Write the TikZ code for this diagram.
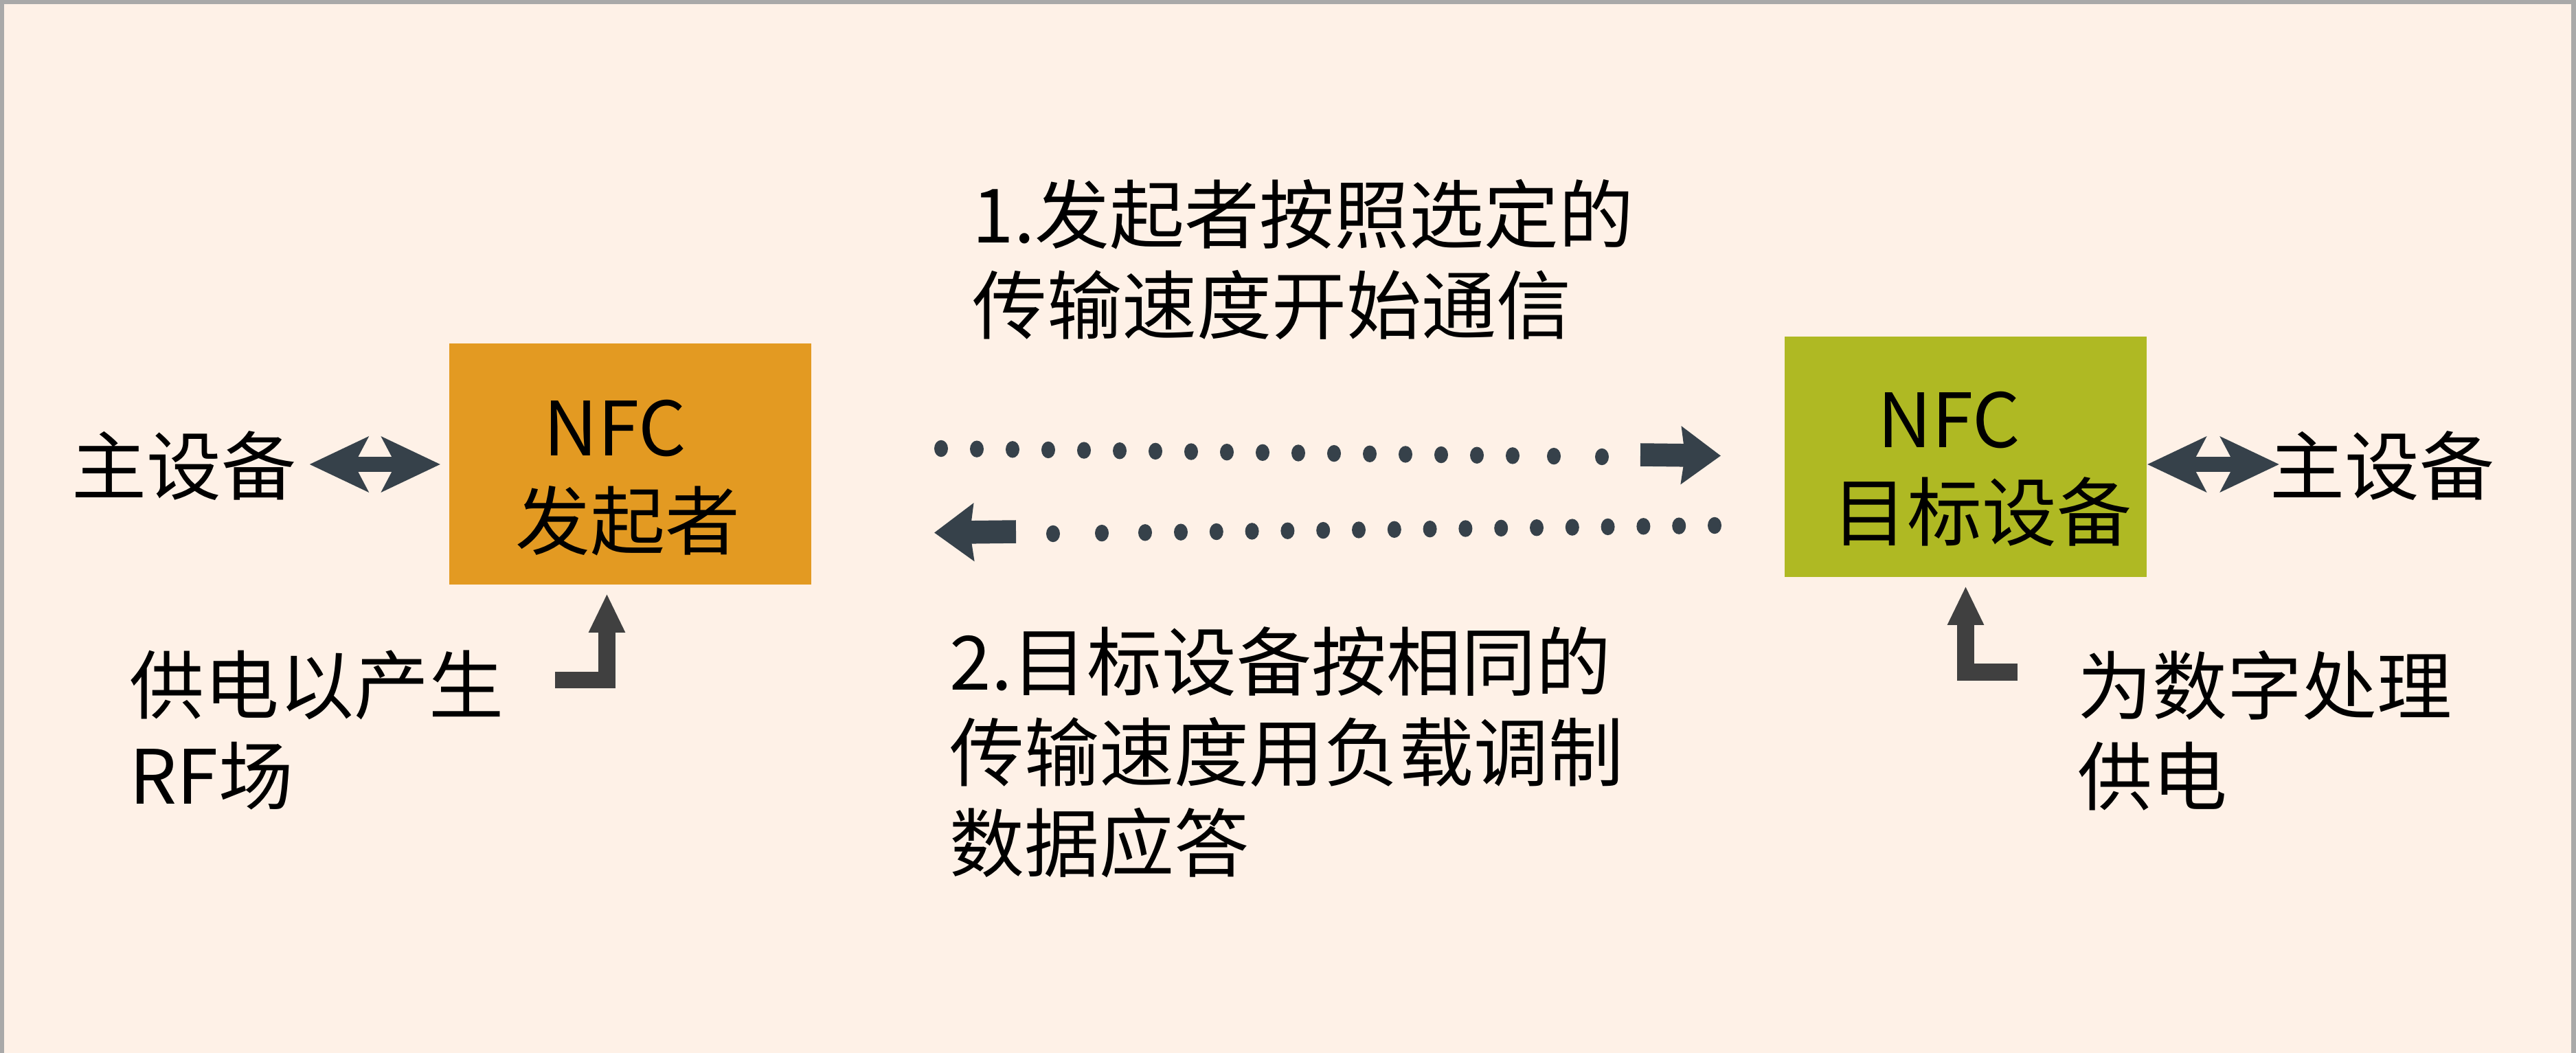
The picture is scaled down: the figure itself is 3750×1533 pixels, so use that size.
\documentclass[tikz,border=0pt]{standalone}
\usepackage{fontspec}
\setmainfont{Noto Sans CJK SC}
\usetikzlibrary{arrows.meta}
\definecolor{bgc}{HTML}{FEF1E7}
\definecolor{framec}{HTML}{A9A9A9}
\definecolor{orangec}{HTML}{E39A22}
\definecolor{greenc}{HTML}{AFB923}
\definecolor{slatec}{HTML}{36414A}
\definecolor{grayc}{HTML}{404040}
\begin{document}
\begin{tikzpicture}[x=0.01cm,y=-0.01cm,
  txt/.style={font=\fontsize{31pt}{37.6pt}\selectfont, inner sep=0pt, align=left, text=black},
  blk/.style={inner sep=0pt, minimum width=5.27cm, minimum height=3.51cm, draw=none},
  dbl/.style={draw=slatec, line width=0.22cm,
    {Stealth[length=0.85cm,width=0.79cm,inset=0.2cm]}-{Stealth[length=0.85cm,width=0.79cm,inset=0.2cm]}},
  fat/.style={draw=slatec, line width=0.335cm, -{Stealth[length=0.57cm,width=0.82cm,inset=0.05cm]}},
  larrow/.style={draw=grayc, line width=0.245cm, line join=miter, -{Triangle[length=0.57cm,width=0.49cm]}},
  dotmark/.style={fill=slatec}
]
\useasboundingbox (0,0) rectangle (3750,1533);
% background and frame
\fill[bgc] (0,0) rectangle (3750,1533);
\fill[framec] (0,0) rectangle (6,1533);
\fill[framec] (0,0) rectangle (3750,6);
\fill[framec] (3743,0) rectangle (3750,1533);

% boxes
\node[blk, fill=orangec] (orange) at (917.5,675.5) {};
\node[blk, fill=greenc, minimum height=3.50cm] (green) at (2861.5,665) {};
\node[txt, anchor=center] (oNFC) at (895,624) {NFC};
\node[txt, anchor=center] (oName) at (914,758) {发起者};
\node[txt, anchor=center] (gNFC) at (2837,612) {NFC};
\node[txt, anchor=center] (gName) at (2885.5,745.5) {目标设备};

% side texts
\node[txt, anchor=west] (mainL) at (104,678) {主设备};
\node[txt, anchor=west] (mainR) at (3304,678) {主设备};
\node[txt, anchor=west] (step1) at (1415,378) {1.发起者按照选定的\\传输速度开始通信};
\node[txt, anchor=west] (step2) at (1382,1095) {2.目标设备按相同的\\传输速度用负载调制\\数据应答};
\node[txt, anchor=west] (feedL) at (188,1063) {供电以产生\\RF场};
\node[txt, anchor=west] (feedR) at (3024,1064) {为数字处理\\供电};

% double arrows to host devices
\draw[dbl] ([xshift=0.18cm,yshift=0.02cm]mainL.east) -- ([xshift=-0.12cm,yshift=0.02cm]mainL.east -| orange.west);
\draw[dbl] ([yshift=-0.11cm]green.east) -- ([xshift=0.14cm,yshift=-0.11cm]green.east -| mainR.west);

% power arrows
\coordinate (pwrL) at (808,990);
\coordinate (pwrR) at (2937,978.5);
\draw[larrow, shorten >=0.12cm] (pwrL) -| ([xshift=-0.34cm]orange.south);
\draw[larrow, shorten >=0.12cm] (pwrR) -| (green.south);

% dotted link: initiator -> target
\foreach \i in {0,...,16} {
  \pgfmathsetmacro\xx{1370+52*\i}
  \pgfmathsetmacro\yy{653+(\xx-1370)*0.01247}
  \fill[dotmark] (\xx,\yy) ellipse [x radius=0.1cm, y radius=0.122cm];
}
\fill[dotmark] (2262,664.1) ellipse [x radius=0.1cm, y radius=0.122cm];
\fill[dotmark] (2332,665) ellipse [x radius=0.1cm, y radius=0.122cm];
\coordinate (fwdS) at (2388,662);
\coordinate (fwdE) at (2505,663.5);
\draw[fat] (fwdS) -- (fwdE);

% dotted link: target -> initiator
\fill[dotmark] (1533,777) ellipse [x radius=0.1cm, y radius=0.122cm];
\fill[dotmark] (1604,776.1) ellipse [x radius=0.1cm, y radius=0.122cm];
\fill[dotmark] (1667,775.3) ellipse [x radius=0.1cm, y radius=0.122cm];
\foreach \i in {0,...,15} {
  \pgfmathsetmacro\xx{1719+51.8*\i}
  \pgfmathsetmacro\yy{777-(\xx-1533)*0.01246}
  \fill[dotmark] (\xx,\yy) ellipse [x radius=0.1cm, y radius=0.122cm];
}
\coordinate (backS) at (1479,774);
\coordinate (backE) at (1360,775.5);
\draw[fat] (backS) -- (backE);
\end{tikzpicture}
\end{document}
